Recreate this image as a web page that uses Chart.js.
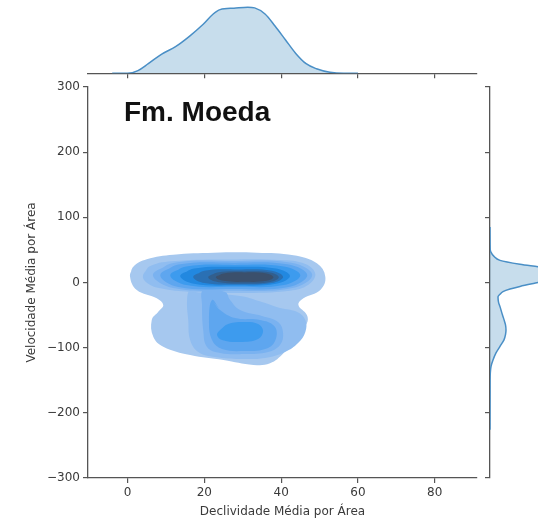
<!DOCTYPE html>
<html>
<head>
<meta charset="utf-8">
<script src="https://cdn.jsdelivr.net/npm/chart.js@4"></script>
<style>
  html, body { margin: 0; padding: 0; background: #fff; overflow: hidden; }
  #wrap { position: relative; width: 538px; height: 525px; overflow: hidden; }
  canvas { position: absolute; top: 0; }
  #mainChart, #topChart { left: 0; }
  #rightChart { left: 480px; }
</style>
</head>
<body>
<div id="wrap">
  <canvas id="mainChart" width="538" height="525"></canvas>
  <canvas id="topChart" width="538" height="80"></canvas>
  <canvas id="rightChart" width="130" height="525"></canvas>
</div>
<script>
// axis ticks
const xTicks = [0, 20, 40, 60, 80];
const yTicks = [-300, -200, -100, 0, 100, 200, 300];
const panelTitle = 'Fm. Moeda';

// marginal KDE of slope (top)
const slopeGrid = [-4, 0, 2.7, 5.4, 8.9, 12.5, 16.1, 19.7, 22.3, 24.1, 27.7, 31.3, 33.1, 35.8, 38.4, 41.1, 43.8, 46.5, 49.2, 52.7, 56.3, 60];
const slopeDensity = [0, 0, 2.7, 9.6, 19.2, 26.7, 37, 49, 59.3, 63.7, 65.1, 66.1, 65.4, 59.3, 47.3, 33.6, 19.9, 9.6, 4.5, 1.0, 0, 0];

// marginal KDE of velocity (right)
const velGrid = [85, 60, 50, 47, 40, 34, 28, 24, 20, 12, 5, 2, -2, -6, -10, -14, -18, -22, -30, -37, -50, -57, -65, -73, -80, -88, -98, -108, -119, -129, -139, -150, -226];
const velDensity = [0, 0.1, 0.3, 0.8, 4, 10, 30, 48, 65, 80, 75, 55, 42, 30, 20, 13, 10, 8, 8.5, 10, 12.5, 14, 15.5, 16, 15.5, 14, 10, 6, 3, 1, 0.3, 0.1, 0];

// 2D KDE contour outlines [slope, velocity]
const band1 = [[0.65, 8.9], [1.5, 24.2], [5.0, 35.6], [11.9, 42.6], [22.4, 45.7], [33.7, 45.7], [43.2, 41.7], [49.3, 29.4], [51.5, 8.9], [50.2, -11.5], [45.8, -24.2], [44.5, -34.5], [46.7, -49.8], [46.7, -62.6], [44.1, -83.1], [40.6, -108.6], [37.1, -124], [32.8, -126.5], [25.0, -118.9], [16.3, -111.2], [9.3, -98.5], [6.7, -83.1], [6.3, -57.5], [8.0, -44.8], [9.3, -34.5], [7.6, -24.2], [2.4, -11.5]];
const band2Top = [[4.0, 10.0], [5.9, 25.3], [12.4, 33.0], [26.7, 35.3], [39.7, 34.5], [46.3, 28.4], [48.9, 13.0], [47.0, -3.8], [42.3, -12.5], [29.3, -16.0], [16.3, -14.5], [8.5, -9.0], [5.1, -0.8]];
const band2Low = [[16.3, -11.5], [18.9, -16.1], [29.3, -20.7], [35.0, -29.9], [39.7, -39.1], [44.2, -45.2], [46.3, -57.5], [46.3, -75.9], [44.4, -92.8], [41.0, -106.6], [35.8, -115.8], [29.3, -117.3], [22.8, -114.3], [18.4, -106.6], [16.3, -88.2], [15.8, -57.5], [15.5, -26.8]];
const band3Top = [[6.6, 11.5], [11.9, 29.8], [27.4, 33.0], [43.0, 29.8], [48.1, 11.5], [43.0, -8.5], [27.4, -12.5], [11.9, -8.5]];
const band3Low = [[19.7, -11.5], [25.4, -14.6], [26.7, -26.8], [29.3, -42.2], [35.0, -51.4], [39.2, -60.6], [40.5, -77.5], [39.7, -95.9], [36.6, -106.6], [30.6, -109.7], [24.1, -108.1], [20.7, -98.9], [19.7, -72.9], [19.4, -34.5]];
const band4Top = [[8.5, 11.0], [13.2, 27.5], [27.6, 30.4], [42.0, 27.5], [46.8, 11.0], [42.0, -7.0], [27.6, -10.0], [13.2, -7.0]];
const band4Low = [[22.0, -26.8], [24.1, -42.2], [28.0, -54.5], [34.5, -57.5], [38.2, -66.7], [38.7, -85.1], [36.6, -100.4], [30.6, -105.1], [24.6, -102.0], [22.0, -88.2], [21.2, -57.5]];
const band5Top = [[11.1, 11.0], [15.3, 24.5], [28.0, 27.0], [40.7, 24.5], [45.0, 11.0], [40.7, -4.0], [28.0, -6.5], [15.3, -4.0]];
const band5Low = [[24.1, -72.9], [26.2, -63.7], [30.6, -60.6], [34.0, -63.7], [35.3, -74.4], [34.0, -86.7], [29.3, -91.3], [24.6, -88.2], [23.3, -80.5]];
const band6 = [[13.7, 10.0], [17.3, 21.5], [28.0, 24.0], [38.7, 21.5], [42.3, 10.0], [38.7, -2.0], [28.0, -4.5], [17.3, -2.0]];
const band7 = [[17.1, 8.5], [20.0, 18.0], [28.8, 20.0], [37.6, 18.0], [40.5, 8.5], [37.6, -0.8], [28.8, -3.0], [20.0, -0.8]];
const band8 = [[21.0, 8.0], [23.4, 15.2], [30.4, 17.0], [37.2, 15.2], [39.4, 8.0], [37.2, 0.8], [30.4, -1.5], [23.4, 0.8]];
const band9 = [[23.0, 8.0], [25.0, 13.8], [30.6, 15.5], [36.2, 13.8], [38.0, 8.0], [36.2, 2.5], [30.6, 1.0], [25.0, 2.5]];

const levelColors = ['#a6c8ef', '#90bdf0', '#7ab2f0', '#5ea6ef', '#3d9bee', '#2288e0', '#2a70b4', '#325f8e', '#3b506c'];

const contours = [
  { pts: band1, level: 0 },
  { pts: band2Top, level: 1 }, { pts: band2Low, level: 1 },
  { pts: band3Top, level: 2 }, { pts: band3Low, level: 2 },
  { pts: band4Top, level: 3 }, { pts: band4Low, level: 3 },
  { pts: band5Top, level: 4 }, { pts: band5Low, level: 4 },
  { pts: band6, level: 5 },
  { pts: band7, level: 6 },
  { pts: band8, level: 7 },
  { pts: band9, level: 8 }
];

const AXIS_GREY = '#555';
const TEXT_GREY = '#3a3a3a';
const MARGIN_LINE = '#4a8fc6';
const MARGIN_FILL = 'rgba(31,119,180,0.25)';

Chart.defaults.font.family = "'DejaVu Sans', sans-serif";
Chart.defaults.font.size = 12;
Chart.defaults.color = TEXT_GREY;
Chart.defaults.animation = false;
Chart.defaults.plugins.legend.display = false;
Chart.defaults.plugins.tooltip.enabled = false;

// repeat the first two vertices so the closed spline has no kink
function ring(points) {
  return points.concat(points.slice(0, 2)).map(([x, y]) => ({ x, y }));
}

const minusFmt = v => (v < 0 ? '\u2212' + Math.abs(v) : String(v));
const spine = { color: AXIS_GREY, width: 1.3 };
const tickMarks = { drawOnChartArea: false, drawTicks: true, tickLength: 5, color: AXIS_GREY, lineWidth: 1.2 };

const titlePlugin = {
  id: 'panelTitle',
  afterDraw(chart) {
    const { ctx, chartArea } = chart;
    ctx.save();
    ctx.font = "bold 28px 'Liberation Sans', Arial, sans-serif";
    ctx.fillStyle = '#111';
    ctx.textBaseline = 'alphabetic';
    ctx.fillText(panelTitle, chartArea.left + 36, chartArea.top + 34);
    ctx.restore();
  }
};

// üìä main joint KDE
new Chart(document.getElementById('mainChart'), {
  type: 'line',
  data: {
    datasets: contours.map(c => ({
      data: ring(c.pts),
      backgroundColor: levelColors[c.level],
      borderColor: 'rgba(0,0,0,0)',
      borderWidth: 0,
      pointRadius: 0,
      tension: 0.4,
      fill: 'shape',
      order: 20 - c.level
    }))
  },
  options: {
    responsive: false,
    layout: { padding: { left: 0, top: 87, right: 61, bottom: 0 } },
    scales: {
      x: {
        type: 'linear', min: -10.3, max: 91,
        afterBuildTicks: s => { s.ticks = xTicks.map(v => ({ value: v })); },
        afterFit: s => { s.height = 47; },
        grid: tickMarks, border: spine,
        ticks: { padding: 3, maxRotation: 0, callback: minusFmt },
        title: { display: true, text: 'Declividade Média por Área', padding: { top: 0, bottom: 6 } }
      },
      y: {
        type: 'linear', min: -300, max: 300,
        afterBuildTicks: s => { s.ticks = yTicks.map(v => ({ value: v })); },
        afterFit: s => { s.width = 88; },
        grid: tickMarks, border: spine,
        ticks: { padding: 3, callback: minusFmt },
        title: { display: true, text: 'Velocidade Média por Área', padding: { top: 25, bottom: 0 } }
      }
    }
  },
  plugins: [titlePlugin]
});

// üìà top marginal
new Chart(document.getElementById('topChart'), {
  type: 'line',
  data: {
    datasets: [{
      data: slopeGrid.map((x, i) => ({ x, y: slopeDensity[i] })),
      borderColor: MARGIN_LINE,
      backgroundColor: MARGIN_FILL,
      borderWidth: 1.5,
      pointRadius: 0,
      cubicInterpolationMode: 'monotone',
      fill: 'origin'
    }]
  },
  options: {
    responsive: false,
    layout: { padding: { left: 88, top: 0, right: 61, bottom: 0 } },
    scales: {
      x: {
        type: 'linear', min: -10.3, max: 91,
        afterBuildTicks: s => { s.ticks = xTicks.map(v => ({ value: v })); },
        afterFit: s => { s.height = 6.7; },
        grid: tickMarks, border: spine,
        ticks: { display: false }
      },
      y: { type: 'linear', display: false, min: 0, max: 73.3 }
    }
  }
});

// üìâ right marginal
new Chart(document.getElementById('rightChart'), {
  type: 'line',
  data: {
    datasets: [{
      indexAxis: 'y',
      data: velGrid.map((y, i) => ({ x: velDensity[i], y })),
      borderColor: MARGIN_LINE,
      backgroundColor: MARGIN_FILL,
      borderWidth: 1.5,
      pointRadius: 0,
      cubicInterpolationMode: 'monotone',
      fill: 'shape'
    }]
  },
  options: {
    responsive: false,
    indexAxis: 'y',
    layout: { padding: { left: 0, top: 87, right: 0, bottom: 47 } },
    scales: {
      x: { type: 'linear', display: false, min: 0, max: 120 },
      y: {
        type: 'linear', min: -300, max: 300,
        afterBuildTicks: s => { s.ticks = yTicks.map(v => ({ value: v })); },
        afterFit: s => { s.width = 10; },
        grid: tickMarks, border: spine,
        ticks: { display: false }
      }
    }
  }
});
</script>
</body>
</html>
